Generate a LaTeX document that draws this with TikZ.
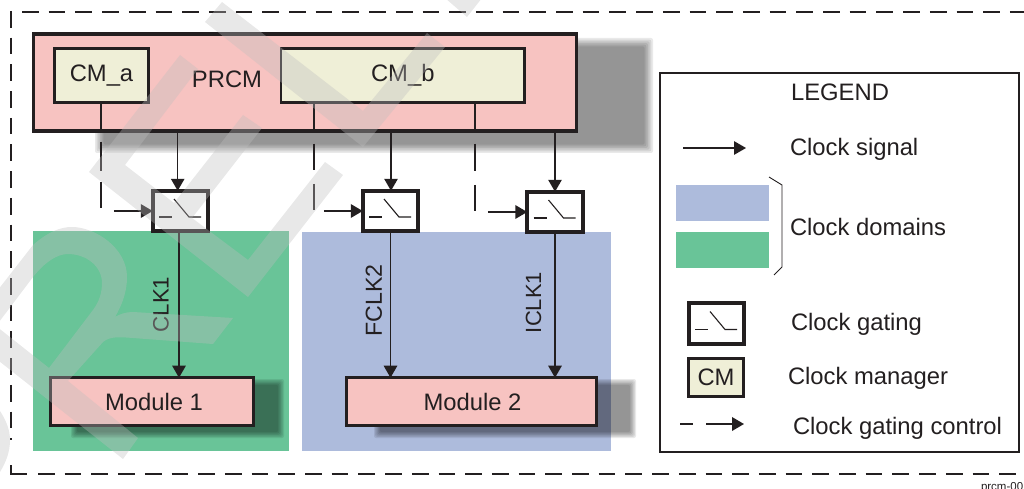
\documentclass[tikz,border=0pt]{standalone}
\usepackage{fontspec}
\setmainfont{Liberation Sans}
\usetikzlibrary{arrows.meta}
\definecolor{ink}{HTML}{231F20}
\definecolor{pinkbox}{HTML}{F7C3C1}
\definecolor{cream}{HTML}{EFEFD7}
\definecolor{domgreen}{HTML}{69C498}
\definecolor{domblue}{HTML}{ADBBDC}
\definecolor{wmark}{HTML}{BEBEBE}
\newcommand{\softshadow}[5]{% x1 y1 x2 y2 fade
  \foreach \k in {0,1,2,3,4,5}{
    \pgfmathsetmacro{\ins}{\k*#5/6}
    \fill[black,fill opacity=0.0867,rounded corners=2pt] (#1+\ins,#2+\ins) rectangle (#3-\ins,#4-\ins);
  }}
\newcommand{\swglyph}[1]{%
  \draw[swline] ([shift={(-21.5,6)}]#1.center) -- ([shift={(-8.5,6)}]#1.center);
  \draw[swline] ([shift={(-6.5,-12)}]#1.center) -- ([shift={(8.5,6)}]#1.center) -- ([shift={(20.5,6)}]#1.center);}
\tikzset{
  x=1pt,y=-1pt,
  every node/.style={inner sep=0pt,outer sep=0pt,text=ink,font=\fontsize{23.8}{28}\selectfont},
  boxbase/.style={draw=ink,rectangle,anchor=center},
  pinkfill/.style={boxbase,fill=pinkbox,line width=3.4pt},
  cmbox/.style={boxbase,fill=cream,line width=2.6pt},
  gatebox/.style={boxbase,fill=white,line width=3.6pt,minimum width=55.5pt,minimum height=40.5pt},
  swline/.style={draw=ink,line width=1.1pt},
  sig/.style={draw=ink,line width=1.3pt,-{Triangle[length=12pt,width=13.5pt]}},
  ctl/.style={draw=ink,line width=2pt,-{Triangle[length=12pt,width=13.5pt]}},
  framedash/.style={draw=ink,line width=2pt,dash pattern=on 16.7pt off 10pt},
  legtext/.style={anchor=base west},
  wm/.style={fill=wmark,fill opacity=0.35,draw=none,even odd rule},
}
\begin{document}
\begin{tikzpicture}
\useasboundingbox (0,0) rectangle (1024,489);
\clip (0,0) rectangle (1024,489);
% outer dashed frame
\coordinate (ftl) at (22,12);
\coordinate (ftr) at (1026,12);
\coordinate (flt) at (11,11);
\coordinate (flb) at (11,440);
\coordinate (fc1) at (11,465);
\coordinate (fc2) at (11,474);
\coordinate (fc3) at (27,474);
\coordinate (fbl) at (38,474);
\coordinate (fbr) at (1016,474);
\draw[framedash] (ftl) -- (ftr);
\draw[framedash] (flt) -- (flb);
\draw[draw=ink,line width=2pt] (fc1) -- (fc2) -- (fc3);
\draw[framedash] (fbl) -- (fbr);
% shadows and clock domains
\softshadow{95}{38}{653}{153}{10}
\node[fill=domgreen,minimum width=256pt,minimum height=220pt] (domg) at (161,341) {};
\node[fill=domblue,minimum width=309pt,minimum height=219pt] (domb) at (456.5,341.5) {};
\softshadow{71}{379}{284}{438}{7}
\softshadow{374}{379}{636}{438}{7}
% PRCM
\node[pinkfill,minimum width=542.5pt,minimum height=97pt] (prcm) at (305,82.5) {};
\node[cmbox,minimum width=94.5pt,minimum height=54.5pt] (cma) at (101.5,75.5) {CM\_a};
\node[cmbox,minimum width=243.5pt,minimum height=54.5pt] (cmb) at (402.75,75.5) {CM\_b};
\node (prcmlabel) at (227,79.5) {PRCM};
% gates
\node[gatebox] (g1) at (180.5,211) {};
\node[gatebox] (g2) at (390.5,211) {};
\node[gatebox] (g3) at (555,212) {};
\swglyph{g1}\swglyph{g2}\swglyph{g3}
% modules
\node[pinkfill,minimum width=203pt,minimum height=47.6pt] (m1) at (152,401.5) {\hspace*{4pt}Module 1};
\node[pinkfill,minimum width=249.6pt,minimum height=47.6pt] (m2) at (471.5,401.5) {\hspace*{2pt}Module 2};
% x positions of the connectors
\coordinate (xa) at (177.7,0);
\coordinate (xb) at (391,0);
\coordinate (xc) at (555,0);
\coordinate (xd) at (179,0);
\coordinate (xe) at (390.5,0);
\coordinate (xf) at (555,0);
\coordinate (xg) at (101,0);
\coordinate (xh) at (314,0);
\coordinate (xi) at (475,0);
% clock signals
\draw[sig] (prcm.south -| xa) -- (g1.north -| xa);
\draw[sig] (prcm.south -| xb) -- (g2.north -| xb);
\draw[sig] (prcm.south -| xc) -- (g3.north -| xc);
\draw[sig] (g1.south -| xd) -- (m1.north -| xd);
\draw[sig] (g2.south -| xe) -- (m2.north -| xe);
\draw[sig] (g3.south -| xf) -- (m2.north -| xf);
% clock gating control
\draw[ctl,dash pattern=on 26pt off 13pt on 29pt off 11pt on 26pt off 16pt on 80pt off 0pt] (cma.south -| xg) |- (g1.west);
\draw[ctl,dash pattern=on 26pt off 15pt on 26pt off 14pt on 26pt off 11pt on 80pt off 0pt] (cmb.south -| xh) |- (g2.west);
\draw[ctl,dash pattern=on 26pt off 15pt on 27pt off 14pt on 26pt off 14pt on 80pt off 0pt] (cmb.south -| xi) |- (g3.west);
% rotated clock names
\node[rotate=90,font=\fontsize{22.3}{26}\selectfont] (clk1) at (161,304.5) {CLK1};
\node[rotate=90,font=\fontsize{23.2}{26}\selectfont] (fclk2) at (374,300.5) {FCLK2};
\node[rotate=90,font=\fontsize{22}{26}\selectfont] (iclk1) at (533.5,302.5) {ICLK1};
% legend
\node[draw=ink,line width=2.6pt,fill=white,minimum width=359pt,minimum height=379pt] (legend) at (839.5,262.5) {};
\node (legtitle) at (840,92) {LEGEND};
\coordinate (ls1) at (683,148);
\coordinate (ls2) at (746,148);
\draw[sig] (ls1) -- (ls2);
\node[legtext] (lt1) at (790,156) {Clock signal};
\node[fill=domblue,minimum width=93pt,minimum height=36pt] (lblue) at (722.5,203) {};
\node[fill=domgreen,minimum width=93pt,minimum height=36pt] (lgreen) at (722.5,250) {};
\coordinate (br1) at (769,177);
\coordinate (br2) at (782,185);
\coordinate (br3) at (782,267);
\coordinate (br4) at (774,275);
\draw[draw=ink,line width=0.9pt] (br1) -- (br2) -- (br3) -- (br4);
\node[legtext] (lt2) at (790,235) {Clock domains};
\node[gatebox] (lg) at (716.5,323.5) {};
\swglyph{lg}
\node[legtext] (lt3) at (791,330) {Clock gating};
\node[cmbox,minimum width=55.5pt,minimum height=38.5pt] (lcm) at (716,377.5) {CM};
\node[legtext] (lt4) at (788,384) {Clock manager};
\coordinate (lc1) at (680,424);
\coordinate (lc2) at (744,424);
\draw[ctl,dash pattern=on 13pt off 13pt on 60pt off 0pt] (lc1) -- (lc2);
\node[legtext] (lt5) at (793,434) {Clock gating control};
\node[anchor=base west,font=\fontsize{11.5}{13}\selectfont] (figid) at (981,490) {prcm-00};
% watermark letters
\path[wm] (-20,313) -- (33,245) .. controls (48,232) and (60,227) .. (72,227)
  .. controls (95,227) and (127,248) .. (127,277) .. controls (127,292) and (122,305) .. (115,317)
  .. controls (120,314) and (126,312) .. (133,312) -- (233,318) -- (213,344) -- (133,338)
  .. controls (120,337) and (110,336) .. (103,342) -- (68,381) -- (138,438) -- (123,459) -- (-20,346) -- cycle
  (49,368) -- (93,310) .. controls (99,302) and (102,293) .. (102,283)
  .. controls (102,266) and (86,254) .. (68,254) .. controls (57,254) and (45,262) .. (33,277) -- (-4,326) -- cycle;
\path[wm] (180,55) -- (89,172) -- (248,297) -- (343,175) -- (325,162) -- (248,260) -- (192,218)
  -- (262,128) -- (243,115) -- (174,203) -- (125,165) -- (198,69) -- cycle;
\path[wm] (222,2) -- (205,22) -- (363,147) -- (445,47) -- (427,33) -- (363,111) -- cycle;
\path[wm] (445,-2) -- (467,17) -- (482,-2) -- cycle;
\path[wm] (-5,405) -- (0,411) .. controls (6,420) and (10,430) .. (10,440) .. controls (10,452) and (6,462) .. (0,472) -- (-5,478) -- cycle;
\end{tikzpicture}
\end{document}
